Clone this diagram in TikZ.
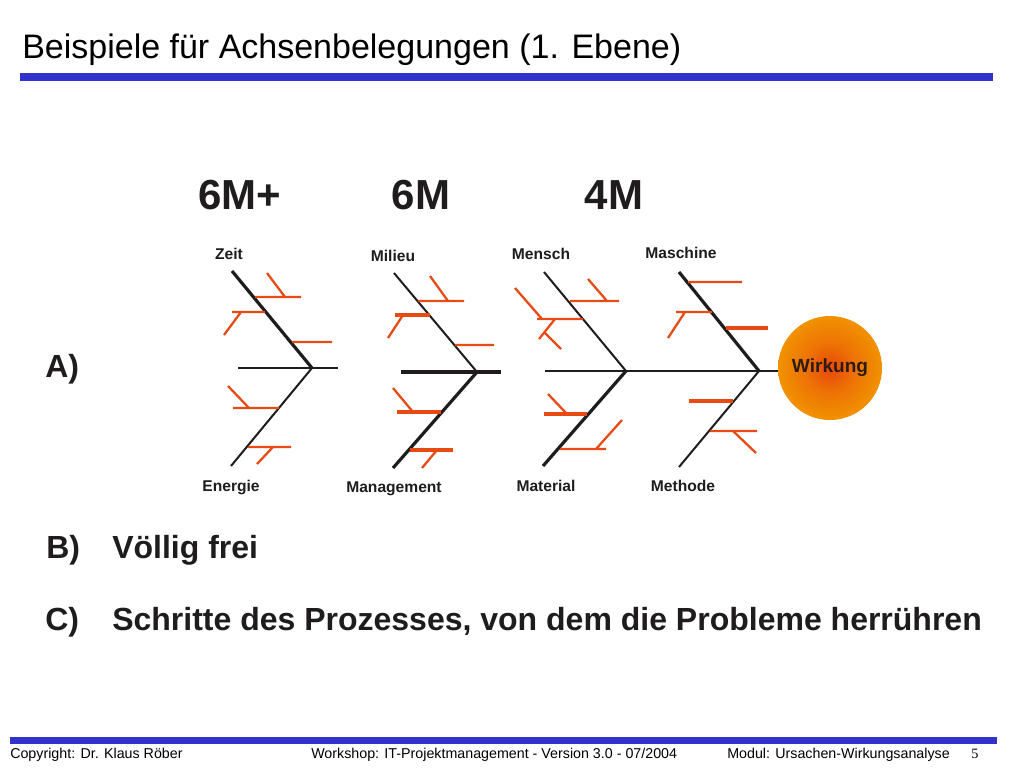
\documentclass[tikz,border=0pt]{standalone}
\usepackage{fontspec}
\setmainfont{Liberation Sans}
\newfontfamily\pagenumfont{Liberation Serif}
\definecolor{barblue}{RGB}{51,51,204}
\definecolor{ribred}{RGB}{232,74,20}
\definecolor{bonedark}{RGB}{30,28,28}
\definecolor{wirkungtext}{RGB}{45,28,18}
\pgfdeclareradialshading{sunball}{\pgfpoint{0bp}{0bp}}{%
  rgb(0bp)=(0.91,0.28,0.04);
  rgb(12bp)=(0.93,0.45,0.02);
  rgb(28bp)=(0.95,0.60,0.0);
  rgb(50bp)=(0.96,0.70,0.0);
  rgb(60bp)=(0.96,0.70,0.0)}

\begin{document}
\begin{tikzpicture}[x=0.75pt, y=-0.75pt,
    bone/.style={draw=bonedark, line width=1.5pt},
    heavybone/.style={draw=bonedark, line width=2.4pt},
    rib/.style={draw=ribred, line width=1.7pt},
    heavyrib/.style={draw=ribred, line width=2.5pt},
    cause/.style={inner sep=0pt, text=bonedark, font=\fontsize{11.7}{14}\selectfont\bfseries},
    variant/.style={inner sep=0pt, text=bonedark, font=\fontsize{31.5}{36}\selectfont\bfseries},
    item/.style={inner sep=0pt, anchor=base west, text=bonedark, font=\fontsize{24}{28}\selectfont\bfseries},
    foot/.style={inner sep=0pt, anchor=base west, font=\fontsize{10.7}{13}\selectfont}]
    \useasboundingbox (0,0) rectangle (1024,768);

    \node[inner sep=0pt, anchor=base west, font=\fontsize{25.5}{30}\selectfont] (title) at (22,58) {Beispiele für Achsenbelegungen (1. Ebene)};
    \draw[barblue, line width=6pt] (20,77) -- (993,77);

    \node[variant] (sixmplus) at (240,195) {6M+};
    \node[variant] (sixm) at (421,195) {6M};
    \node[variant] (fourm) at (614,195) {4M};

    % 6M+
    \coordinate (j1) at (312,368);
    \draw[bone] (238,368) -- (338,368);
    \draw[heavybone] (232,271) -- (j1);
    \draw[bone] (j1) -- (231,466);
    \draw[rib] (255,297) -- (301,297) (267,273) -- (285,297)
        (232,312) -- (265,312) (241,312) -- (224,335)
        (292,342) -- (332,342)
        (233,408) -- (279,408) (228,386) -- (249,408)
        (248,447) -- (291,447) (273,447) -- (257,464);
    \node[cause] (zeit) at (229,254) {Zeit};
    \node[cause] (energie) at (231,487) {Energie};

    % 6M
    \coordinate (j2) at (477,372);
    \draw[draw=bonedark, line width=3pt] (401,372) -- (501,372);
    \draw[bone] (394,273) -- (j2);
    \draw[heavybone] (j2) -- (393,468);
    \draw[rib] (418,301) -- (464,301) (430,276) -- (448,301)
        (403,315) -- (388,338)
        (455,345) -- (494,345)
        (393,388) -- (413,412)
        (437,450) -- (422,468);
    \draw[heavyrib] (395,315) -- (430,315) (397,412) -- (441,412) (410,450) -- (453,450);
    \node[cause] (milieu) at (393,256) {Milieu};
    \node[cause] (management) at (394,489) {Management};

    % 4M
    \node[circle, minimum size=78pt, inner sep=0pt, shading=sunball, text=wirkungtext,
        font=\fontsize{14.3}{17}\selectfont\bfseries] (wirkung) at (830,368) {Wirkung};
    \coordinate (spine) at (545,371);
    \coordinate (j3) at (626,371);
    \coordinate (j4) at (759,371);
    \draw[draw=bonedark, line width=1.9pt] (spine) -- (spine -| wirkung.west);
    \draw[bone] (544,272) -- (j3);
    \draw[heavybone] (j3) -- (543,466);
    \draw[heavybone] (679,272) -- (j4);
    \draw[bone] (j4) -- (679,467);
    \draw[rib] (570,301) -- (619,301) (588,279) -- (607,301)
        (537,319) -- (583,319) (515,288) -- (542,319) (555,319) -- (539,339) (545,333) -- (561,349)
        (548,394) -- (567,414)
        (560,449) -- (606,449) (596,449) -- (622,420)
        (688,282) -- (742,282)
        (676,312) -- (712,312) (685,312) -- (668,338)
        (710,431) -- (757,431) (733,431) -- (756,453);
    \draw[heavyrib] (544,414) -- (587,414) (726,328) -- (768,328) (689,401) -- (733,401);
    \node[cause] (mensch) at (541,254) {Mensch};
    \node[cause] (maschine) at (681,253) {Maschine};
    \node[cause] (material) at (546,486) {Material};
    \node[cause] (methode) at (683,486) {Methode};

    \node[item] (labela) at (45,377) {A)};
    \node[item] (labelb) at (46,558) {B)};
    \node[item] (textb) at (112,558) {Völlig frei};
    \node[item] (labelc) at (45,630) {C)};
    \node[item] (textc) at (112,630) {Schritte des Prozesses, von dem die Probleme herrühren};

    \draw[barblue, line width=5.25pt] (10,740.5) -- (997,740.5);
    \node[foot] (copyright) at (10,758) {Copyright: Dr. Klaus Röber};
    \node[foot] (workshop) at (311,758) {Workshop: IT-Projektmanagement - Version 3.0 - 07/2004};
    \node[foot] (modul) at (727,758) {Modul: Ursachen-Wirkungsanalyse};
    \node[foot, font=\fontsize{10.7}{13}\pagenumfont] (pagenum) at (971,758) {5};
\end{tikzpicture}
\end{document}
